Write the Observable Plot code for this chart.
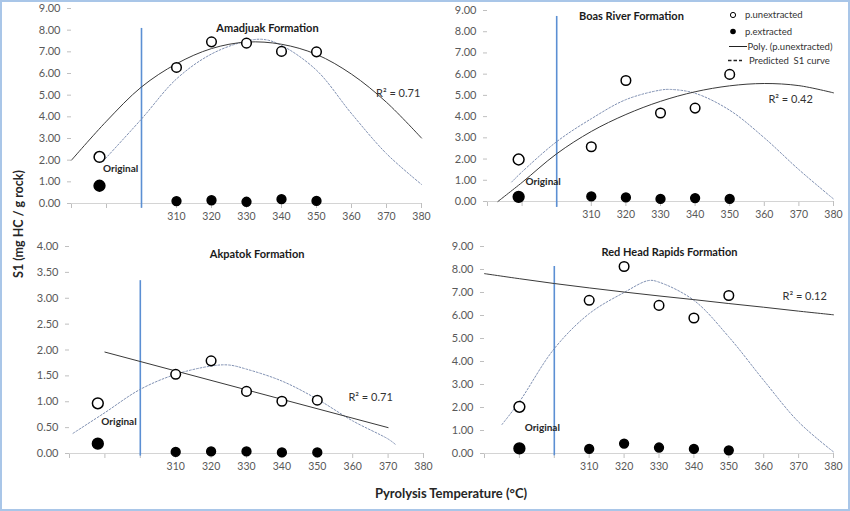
<!DOCTYPE html>
<html><head><meta charset="utf-8">
<script src="https://cdn.jsdelivr.net/npm/d3@7"></script>
<script src="https://cdn.jsdelivr.net/npm/@observablehq/plot@0.6"></script>
<style>
body{margin:0;background:#fff;}
#wrap{position:relative;width:850px;height:511px;overflow:hidden;font-family:Lato,"Open Sans",sans-serif;background:#fff;}
.panel{position:absolute;}
#frame{position:absolute;left:0;top:0;width:850px;height:511px;box-sizing:border-box;border:2px solid #a9c6e8;pointer-events:none;}
#ytitle{position:absolute;left:18px;top:224px;transform:translate(-50%,-50%) rotate(-90deg);font-weight:bold;font-size:12.5px;color:#262626;white-space:nowrap;}
#xtitle{position:absolute;left:451px;top:493px;transform:translate(-50%,-50%);font-weight:bold;font-size:13px;color:#262626;white-space:nowrap;}
#legend{position:absolute;left:715px;top:5px;}
</style></head>
<body>
<div id="wrap">
  <div id="ytitle">S1 (mg HC / g rock)</div>
  <div id="xtitle">Pyrolysis Temperature (°C)</div>
  <div id="frame"></div>
</div>
<script>
// ---------- data ----------
const formations = ["Amadjuak Formation", "Boas River Formation", "Akpatok Formation", "Red Head Rapids Formation"];
const r2Labels = ["R\u00B2 = 0.71", "R\u00B2 = 0.42", "R\u00B2 = 0.71", "R\u00B2 = 0.12"];
const sampleTemps = [310, 320, 330, 340, 350];
const originalTemps = [288, 289, 288, 290];
const xTickValues = [280, 290, 300, 310, 320, 330, 340, 350, 360, 370, 380];
const xLabelledTicks = [310, 320, 330, 340, 350, 360, 370, 380];
const dividerTemp = 300;
const yMaxes = [9, 9, 4, 9];
const yTickSteps = [1, 1, 0.5, 1];

// first value = Original sample, then 310..350 °C
const amadjuakUnextracted = [2.15, 6.28, 7.46, 7.40, 7.02, 7.00];
const amadjuakExtracted   = [0.82, 0.11, 0.15, 0.08, 0.20, 0.12];
const boasUnextracted     = [1.98, 2.58, 5.70, 4.17, 4.40, 5.99];
const boasExtracted       = [0.22, 0.24, 0.19, 0.12, 0.16, 0.12];
const akpatokUnextracted  = [0.97, 1.53, 1.79, 1.20, 1.01, 1.03];
const akpatokExtracted    = [0.19, 0.03, 0.04, 0.04, 0.02, 0.02];
const redHeadUnextracted  = [2.03, 6.66, 8.13, 6.44, 5.89, 6.87];
const redHeadExtracted    = [0.22, 0.20, 0.43, 0.26, 0.20, 0.14];

// Poly. (p.unextracted) trend curves
const amadjuakPolyTemps = [280, 290, 300, 310, 320, 330, 340, 350, 360, 370, 380];
const amadjuakPolyS1    = [2.0, 3.8, 5.38, 6.45, 7.15, 7.45, 7.35, 6.88, 5.97, 4.67, 3.02];
const boasPolyTemps     = [283, 290, 300, 310, 320, 330, 340, 350, 360, 370, 380];
const boasPolyS1        = [0.0, 0.9, 2.25, 3.3, 4.1, 4.72, 5.17, 5.45, 5.56, 5.46, 5.12];
const akpatokPolyTemps  = [290, 370];
const akpatokPolyS1     = [1.96, 0.50];
const redHeadPolyTemps  = [280, 290, 300, 310, 320, 330, 340, 350, 360, 370, 380];
const redHeadPolyS1     = [7.82, 7.6, 7.39, 7.2, 7.02, 6.85, 6.69, 6.52, 6.36, 6.19, 6.03];

// Predicted S1 curves
const amadjuakPredTemps = [289, 300, 310, 320, 330, 335, 340, 350, 360, 370, 380];
const amadjuakPredS1    = [1.95, 3.9, 5.75, 6.9, 7.5, 7.57, 7.3, 6.15, 4.15, 2.3, 0.88];
const boasPredTemps     = [287, 290, 300, 310, 320, 330, 333, 340, 350, 360, 370, 380];
const boasPredS1        = [0.92, 1.4, 2.82, 3.9, 4.8, 5.25, 5.28, 5.1, 4.3, 3.0, 1.5, 0.12];
const akpatokPredTemps  = [281, 290, 300, 310, 320, 325, 330, 340, 350, 360, 370, 372];
const akpatokPredS1     = [0.39, 0.79, 1.24, 1.53, 1.69, 1.71, 1.63, 1.4, 1.05, 0.63, 0.28, 0.18];
const redHeadPredTemps  = [285, 290, 300, 310, 320, 327, 330, 340, 350, 360, 370, 380];
const redHeadPredS1     = [1.26, 2.25, 4.56, 6.08, 7.0, 7.52, 7.45, 6.66, 5.07, 3.18, 1.37, 0.07];

const unextracted = [amadjuakUnextracted, boasUnextracted, akpatokUnextracted, redHeadUnextracted];
const extracted = [amadjuakExtracted, boasExtracted, akpatokExtracted, redHeadExtracted];
const polyTemps = [amadjuakPolyTemps, boasPolyTemps, akpatokPolyTemps, redHeadPolyTemps];
const polyS1 = [amadjuakPolyS1, boasPolyS1, akpatokPolyS1, redHeadPolyS1];
const predTemps = [amadjuakPredTemps, boasPredTemps, akpatokPredTemps, redHeadPredTemps];
const predS1 = [amadjuakPredS1, boasPredS1, akpatokPredS1, redHeadPredS1];

// ---------- layout (pixels) ----------
const layouts = [
  {left: 0,   top: 0,   width: 430, height: 230, ml: 71, mr: 9,  mt: 8,  mb: 27,
   title: [336, 8.08], original: [289, 1.62], r2: [367, 5.08], divider: [-0.22, 8.08]},
  {left: 430, top: 0,   width: 420, height: 230, ml: 57, mr: 17, mt: 10, mb: 29,
   title: [321.6, 8.72], original: [291, 0.92], r2: [361.2, 4.81], divider: [-0.28, 8.72]},
  {left: 0,   top: 230, width: 430, height: 281, ml: 69, mr: 7,  mt: 16, mb: 58,
   title: [333, 3.85], original: [289, 0.62], r2: [358.8, 1.08], divider: [-0.05, 3.34]},
  {left: 430, top: 230, width: 420, height: 281, ml: 54, mr: 17, mt: 16, mb: 58,
   title: [333, 8.74], original: [291.5, 1.13], r2: [365.4, 6.83], divider: [-0.1, 8.13]}
];

const wrap = document.getElementById("wrap");
const frame = document.getElementById("frame");

formations.forEach((name, i) => {
  const L = layouts[i];
  const temps = [originalTemps[i], ...sampleTemps];
  const unext = temps.map((t, j) => ({t, s1: unextracted[i][j], orig: j === 0}));
  const ext = temps.map((t, j) => ({t, s1: extracted[i][j], orig: j === 0}));
  const poly = polyTemps[i].map((t, j) => ({t, s1: polyS1[i][j]}));
  const pred = predTemps[i].map((t, j) => ({t, s1: predS1[i][j]}));
  const yTicks = d3.range(0, yMaxes[i] + 1e-9, yTickSteps[i]);

  const chart = Plot.plot({
    width: L.width, height: L.height,
    marginLeft: L.ml, marginRight: L.mr, marginTop: L.mt, marginBottom: L.mb,
    style: {fontFamily: "Lato, 'Open Sans', sans-serif", fontSize: "11px", color: "#595959", background: "transparent", overflow: "visible"},
    x: {domain: [280, 380]},
    y: {domain: [0, yMaxes[i]]},
    marks: [
      Plot.axisY({ticks: yTicks, tickFormat: d3.format(".2f"), tickSize: 4, tickPadding: 7, stroke: "#bfbfbf", fill: "#595959", fontSize: 11, label: null}),
      Plot.axisX({ticks: xTickValues, tickFormat: d => xLabelledTicks.includes(d) ? String(d) : "", tickSize: 5, tickPadding: 4, stroke: "#bfbfbf", fill: "#595959", fontSize: 10.5, label: null}),
      Plot.ruleY([0], {stroke: "#d4d4d4", strokeWidth: 1}),
      Plot.ruleX([dividerTemp], {y1: L.divider[0], y2: L.divider[1], stroke: "#5b8fd3", strokeWidth: 1.6}),
      Plot.line(pred, {x: "t", y: "s1", stroke: "#7f90b2", strokeWidth: 1, strokeDasharray: "1.8,1.8", curve: "catmull-rom"}),
      Plot.line(poly, {x: "t", y: "s1", stroke: "#3a3a3a", strokeWidth: 1, curve: "catmull-rom"}),
      Plot.dot(unext.filter(d => !d.orig), {x: "t", y: "s1", r: 4.8, fill: "white", stroke: "black", strokeWidth: 1.5}),
      Plot.dot(unext.filter(d => d.orig), {x: "t", y: "s1", r: 5.4, fill: "white", stroke: "black", strokeWidth: 1.5}),
      Plot.dot(ext.filter(d => !d.orig), {x: "t", y: "s1", r: 4.4, fill: "black", stroke: "black"}),
      Plot.dot(ext.filter(d => d.orig), {x: "t", y: "s1", r: 5.4, fill: "black", stroke: "black"}),
      Plot.text([name], {x: L.title[0], y: L.title[1], text: d => d, fontWeight: "bold", fontSize: 11, fill: "#1a1a1a", textAnchor: "middle"}),
      Plot.text(["Original"], {x: L.original[0], y: L.original[1], text: d => d, fontWeight: "bold", fontSize: 10, fill: "#262626", textAnchor: "start"}),
      Plot.text([r2Labels[i]], {x: L.r2[0], y: L.r2[1], text: d => d, fontSize: 11, fill: "#333", textAnchor: "start"})
    ]
  });
  const div = document.createElement("div");
  div.className = "panel";
  div.style.left = L.left + "px";
  div.style.top = L.top + "px";
  div.appendChild(chart);
  wrap.insertBefore(div, frame);
});

// legend (top-right panel)
const legendItems = ["p.unextracted", "p.extracted", "Poly. (p.unextracted)", "Predicted  S1 curve"];
const ns = "http://www.w3.org/2000/svg";
const lg = document.createElementNS(ns, "svg");
lg.setAttribute("id", "legend");
lg.setAttribute("width", 120);
lg.setAttribute("height", 65);
const rows = [10, 26.5, 41.5, 55.5];
lg.innerHTML = `
  <circle cx="18" cy="${rows[0]}" r="2.6" fill="white" stroke="black" stroke-width="1"/>
  <circle cx="18" cy="${rows[1]}" r="2.8" fill="black"/>
  <line x1="14" x2="32" y1="${rows[2]}" y2="${rows[2]}" stroke="#222" stroke-width="1"/>
  <line x1="13" x2="27" y1="${rows[3]}" y2="${rows[3]}" stroke="#222" stroke-width="1.6" stroke-dasharray="3.5,2"/>
  <text x="30" y="${rows[0]}" dy="0.35em" font-size="9.5" fill="#333" font-family="Lato, sans-serif">${legendItems[0]}</text>
  <text x="30" y="${rows[1]}" dy="0.35em" font-size="9.5" fill="#333" font-family="Lato, sans-serif">${legendItems[1]}</text>
  <text x="32.5" y="${rows[2]}" dy="0.35em" font-size="9.5" fill="#333" font-family="Lato, sans-serif">${legendItems[2]}</text>
  <text x="34" y="${rows[3]}" dy="0.35em" font-size="9.5" fill="#333" font-family="Lato, sans-serif" xml:space="preserve">${legendItems[3]}</text>`;
wrap.insertBefore(lg, frame);
</script>
</body></html>
